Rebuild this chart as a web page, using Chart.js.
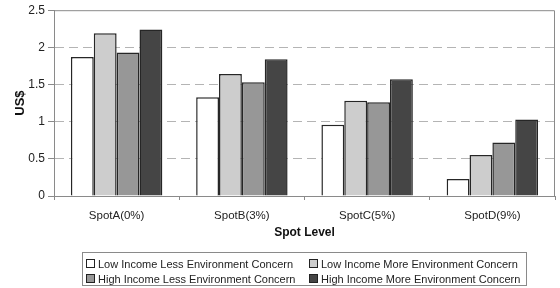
<!DOCTYPE html>
<html>
<head>
<meta charset="utf-8">
<script src="https://cdn.jsdelivr.net/npm/chart.js@4.4.1/dist/chart.umd.min.js"></script>
<style>
  html, body { margin: 0; padding: 0; background: #fff; }
  #wrap { position: relative; width: 560px; height: 288px; }
  #legend {
    position: absolute; left: 82px; top: 252px; width: 445px; height: 34px;
    border: 1px solid #8a8a8a; box-sizing: border-box;
    font-family: "Liberation Sans", Arial, sans-serif; font-size: 11px; color: #222;
  }
  .item { position: absolute; display: flex; align-items: center; height: 15px; white-space: nowrap; }
  .sw { width: 7px; height: 7px; border: 1px solid #222; margin-right: 3px; }
</style>
</head>
<body>
<div id="wrap">
  <canvas id="c" width="560" height="288"></canvas>
  <div id="legend"></div>
</div>
<script>
const categories = ["SpotA(0%)", "SpotB(3%)", "SpotC(5%)", "SpotD(9%)"];
const seriesNames = [
  "Low Income Less Environment Concern",
  "Low Income More Environment Concern",
  "High Income Less Environment Concern",
  "High Income More Environment Concern"
];
const lowLess  = [1.87, 1.33, 0.96, 0.23];
const lowMore  = [2.19, 1.64, 1.28, 0.55];
const highLess = [1.93, 1.53, 1.26, 0.72];
const highMore = [2.24, 1.84, 1.57, 1.03];
const yTicks = [0, 0.5, 1, 1.5, 2, 2.5];
const colors = ["#ffffff", "#cdcdcd", "#979797", "#454545"];

const seriesValues = [lowLess, lowMore, highLess, highMore];
const FONT = "'Liberation Sans', Arial, sans-serif";

const frame = {
  id: 'frame',
  afterDatasetsDraw(chart) {
    const { ctx, chartArea: a } = chart;
    ctx.save();
    ctx.strokeStyle = '#8a8a8a';
    ctx.lineWidth = 1;
    ctx.setLineDash([]);
    ctx.beginPath();
    ctx.moveTo(a.left, a.top + 0.5);
    ctx.lineTo(a.right - 0.5, a.top + 0.5);
    ctx.lineTo(a.right - 0.5, a.bottom);
    ctx.stroke();
    ctx.restore();
  }
};

new Chart(document.getElementById('c'), {
  type: 'bar',
  data: {
    labels: categories,
    datasets: seriesValues.map((vals, i) => ({
      label: seriesNames[i],
      data: vals,
      backgroundColor: colors[i],
      borderColor: '#262626',
      borderWidth: 1.5,
      categoryPercentage: 0.73,
      barPercentage: 1.0
    }))
  },
  options: {
    responsive: false,
    animation: false,
    layout: { padding: { left: 0, right: 5, top: 10, bottom: 46 } },
    plugins: { legend: { display: false }, tooltip: { enabled: false } },
    scales: {
      x: {
        offset: true,
        grid: {
          offset: true, drawOnChartArea: false, drawTicks: true,
          tickLength: 4, tickColor: '#8a8a8a'
        },
        border: { color: '#8a8a8a', width: 1 },
        ticks: { color: '#222', font: { family: FONT, size: 11.5 }, padding: 9 },
        title: {
          display: true, text: 'Spot Level', color: '#111',
          font: { family: FONT, size: 12, weight: 'bold' },
          padding: { top: 0, bottom: 2 }
        },
        afterFit(s) { s.height = 46; }
      },
      y: {
        min: 0, max: 2.5,
        afterBuildTicks(s) { s.ticks = yTicks.map(v => ({ value: v })); },
        grid: {
          color: (c) => (c.tick && (c.tick.value === 0 || c.tick.value === 2.5)) ? 'rgba(0,0,0,0)' : '#b4b4b4',
          lineWidth: 1,
          tickColor: '#8a8a8a',
          tickLength: 6,
          tickBorderDash: [],
        },
        border: { color: '#8a8a8a', width: 1, dash: [9, 5] },
        ticks: {
          color: '#222', font: { family: FONT, size: 12 }, padding: 3,
          callback: (v) => String(v)
        },
        title: {
          display: true, text: 'US$', color: '#111',
          font: { family: FONT, size: 13, weight: 'bold' },
          padding: { top: 13, bottom: 0 }
        },
        afterFit(s) { s.width = 54; }
      }
    }
  },
  plugins: [frame]
});

// HTML legend built from series names and colours
const lg = document.getElementById('legend');
const pos = [[3, 3], [226, 3], [3, 18], [226, 18]];
seriesNames.forEach((name, i) => {
  const it = document.createElement('div');
  it.className = 'item';
  it.style.left = pos[i][0] + 'px';
  it.style.top = pos[i][1] + 'px';
  const sw = document.createElement('span');
  sw.className = 'sw';
  sw.style.background = colors[i];
  const tx = document.createElement('span');
  tx.textContent = name;
  it.appendChild(sw); it.appendChild(tx);
  lg.appendChild(it);
});
</script>
</body>
</html>
